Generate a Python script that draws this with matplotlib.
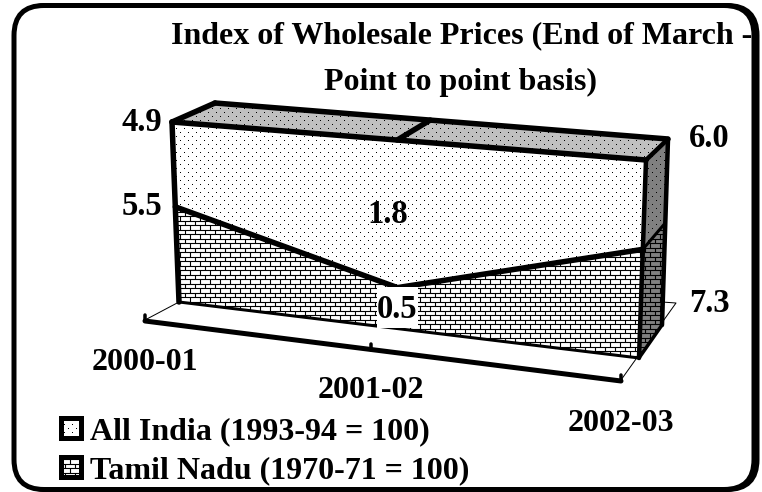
import numpy as np
import matplotlib
matplotlib.use("Agg")
import matplotlib.pyplot as plt
from matplotlib.patches import Polygon, FancyBboxPatch
from matplotlib.collections import LineCollection

categories = ["2000-01", "2001-02", "2002-03"]
all_india = [4.9, 1.8, 6.0]
tamil_nadu = [5.5, 0.5, 7.3]
title_lines = ["Index of Wholesale Prices (End of March -", "Point to point basis)"]
legend_labels = ["All India (1993-94 = 100)", "Tamil Nadu (1970-71 = 100)"]

FONT = "Liberation Serif"
W, H = 762, 492
fig = plt.figure(figsize=(W / 100, H / 100), dpi=100)
ax = fig.add_axes([0, 0, 1, 1])
ax.set_xlim(0, W)
ax.set_ylim(H, 0)
ax.axis("off")

# 3D box corners in pixel space
FBL, FTL, FBR, FTR = map(np.array, [(179, 302), (172, 122), (639, 358), (646, 160)])
BBL, BTL, BBR, BTR = map(np.array, [(205, 285), (215, 103), (662, 325), (668, 139)])


def warp(t):
    return t / (t + (1 - t) * 1.105)


def proj(i, frac, depth=0.0):
    """Category index, stacked share (0-1), depth (0 front, 1 back) -> pixels."""
    u = warp(i / (len(categories) - 1))
    bl = FBL + (BBL - FBL) * depth
    tl = FTL + (BTL - FTL) * depth
    br = FBR + (BBR - FBR) * depth
    tr = FTR + (BTR - FTR) * depth
    return (1 - u) * (bl + (tl - bl) * frac) + u * (br + (tr - br) * frac)


idx = range(len(categories))
share = [t / (t + a) for t, a in zip(tamil_nadu, all_india)]
front_mid = [proj(i, s) for i, s in zip(idx, share)]
front_top = [proj(i, 1) for i in idx]
front_bot = [proj(i, 0) for i in idx]
back_top = [proj(i, 1, 1) for i in idx]

# One-pixel dot screen used as a fill pattern, clipped to each face
yy, xx = np.mgrid[0:H, 0:W]
dot_mask = (yy % 4 == 0) & ((xx + (yy // 4 % 2) * 4) % 8 == 0)
dot_rgba = np.zeros((H, W, 4))
dot_rgba[..., 3] = dot_mask


def dots(poly, zorder=2):
    im = ax.imshow(dot_rgba, extent=(0, W, H, 0), origin="upper", aspect="auto",
                   interpolation="nearest", zorder=zorder)
    im.set_clip_path(poly)


def bricks(poly, line="black", zorder=2):
    x0, y0 = poly.get_xy().min(axis=0)
    x1, y1 = poly.get_xy().max(axis=0)
    step = 4.5
    segs = []
    for r in range(int(y0 // step), int(y1 // step) + 2):
        y = r * step
        segs.append([(x0, y), (x1, y)])
        for c in range(int(x0 // 10) - 1, int(x1 // 10) + 2):
            x = c * 10 + (r % 2) * 5
            segs.append([(x, y), (x, y + step)])
    lc = LineCollection(segs, colors=line, linewidths=0.8, zorder=zorder)
    ax.add_collection(lc)
    lc.set_clip_path(poly)


def face(points, fc, pattern, zorder=2):
    p = Polygon(np.array(points), closed=True, fc=fc, ec="none", zorder=zorder)
    ax.add_patch(p)
    pattern(p, zorder=zorder + 0.1)


def stroke(points, px, zorder=5):
    pts = np.array(points)
    ax.plot(pts[:, 0], pts[:, 1], color="black", lw=px * 0.72, zorder=zorder,
            solid_capstyle="round", solid_joinstyle="round")


def label(x, y, s, size, ha="center"):
    ax.text(x, y, s, ha=ha, va="baseline", family=FONT, weight="bold", fontsize=size, zorder=8)


# Frame (right side is heavier, like a drop shadow)
for off in (3, 0):
    ax.add_patch(FancyBboxPatch((44 + off, 35.5), 680, 424,
                                boxstyle="round,pad=30,rounding_size=30",
                                fc="white", ec="black", lw=5 * 0.72,
                                zorder=1, clip_on=False))

# Floor and category axis
stroke([(145, 320), (179, 302)], 1, zorder=1.5)
stroke([(621, 380), (676, 303), (662, 302)], 1, zorder=1.5)
ax0, ax1 = np.array((145, 321)), np.array((621, 381))
axis_pts = [ax0 + (ax1 - ax0) * warp(i / 2) for i in idx]
stroke(axis_pts, 5, zorder=1.6)
for p in axis_pts:
    stroke([p, p + np.array((0, -6))], 3.5, zorder=1.6)
for name, p, base in zip(categories, axis_pts, (370, 398, 431)):
    label(p[0], base, name, 23)

# Faces
for i in (0, 1):
    face([front_top[i], front_top[i + 1], back_top[i + 1], back_top[i]], "#c0c0c0", dots)
    face([front_mid[i], front_mid[i + 1], front_top[i + 1], front_top[i]], "white", dots)
    face([front_bot[i], front_bot[i + 1], front_mid[i + 1], front_mid[i]], "white", bricks)
end_share = share[-1]
face([proj(2, end_share), proj(2, end_share, 1), proj(2, 1, 1), proj(2, 1)], "#808080", dots)
face([proj(2, 0), proj(2, 0, 1), proj(2, end_share, 1), proj(2, end_share)], "#808080", bricks)

# Outlines
stroke(front_top, 5.5)
stroke(back_top, 5.5)
stroke(front_mid, 5.5)
stroke(front_bot, 3)
stroke([proj(0, 0), proj(0, 1)], 5.5)
stroke([proj(0, 1), proj(0, 1, 1)], 5.5)
stroke([proj(1, 1), proj(1, 1, 1)], 5.5)
stroke([proj(2, 1), proj(2, 1, 1)], 4.5)
stroke([proj(2, 0), proj(2, 1)], 4.5)
stroke([proj(2, 0, 1), proj(2, 1, 1)], 4.5)
stroke([proj(2, 0), proj(2, 0, 1)], 3.5)
stroke([proj(2, end_share), proj(2, end_share, 1)], 3)

# Data labels
ax.add_patch(Polygon([(377, 287), (418, 287), (418, 328), (377, 328)], closed=True,
                     fc="white", ec="none", zorder=6))
label_pos = [(142, 131), (388, 223), (709, 147), (142, 215), (397, 318), (709, 312)]
for v, p in zip(all_india + tamil_nadu, label_pos):
    label(p[0], p[1], f"{v:.1f}", 23.5)

# Title
label(462, 43, title_lines[0], 23)
label(460, 90, title_lines[1], 23)

# Legend
for y, base, text, pat in zip((415, 454), (439, 478), legend_labels, (dots, bricks)):
    box = [(60.5, y + 2.5), (80.5, y + 2.5), (80.5, y + 22.5), (60.5, y + 22.5)]
    r = Polygon(box, closed=True, fc="white", ec="none", zorder=7)
    ax.add_patch(r)
    pat(r, zorder=7.1)
    ax.add_patch(Polygon(box, closed=True, fc="none", ec="black", lw=5 * 0.72, zorder=7.5))
    label(90, base, text, 23, ha="left")

ax.set_xlim(0, W)
ax.set_ylim(H, 0)
fig.savefig("out.png", dpi=100)
